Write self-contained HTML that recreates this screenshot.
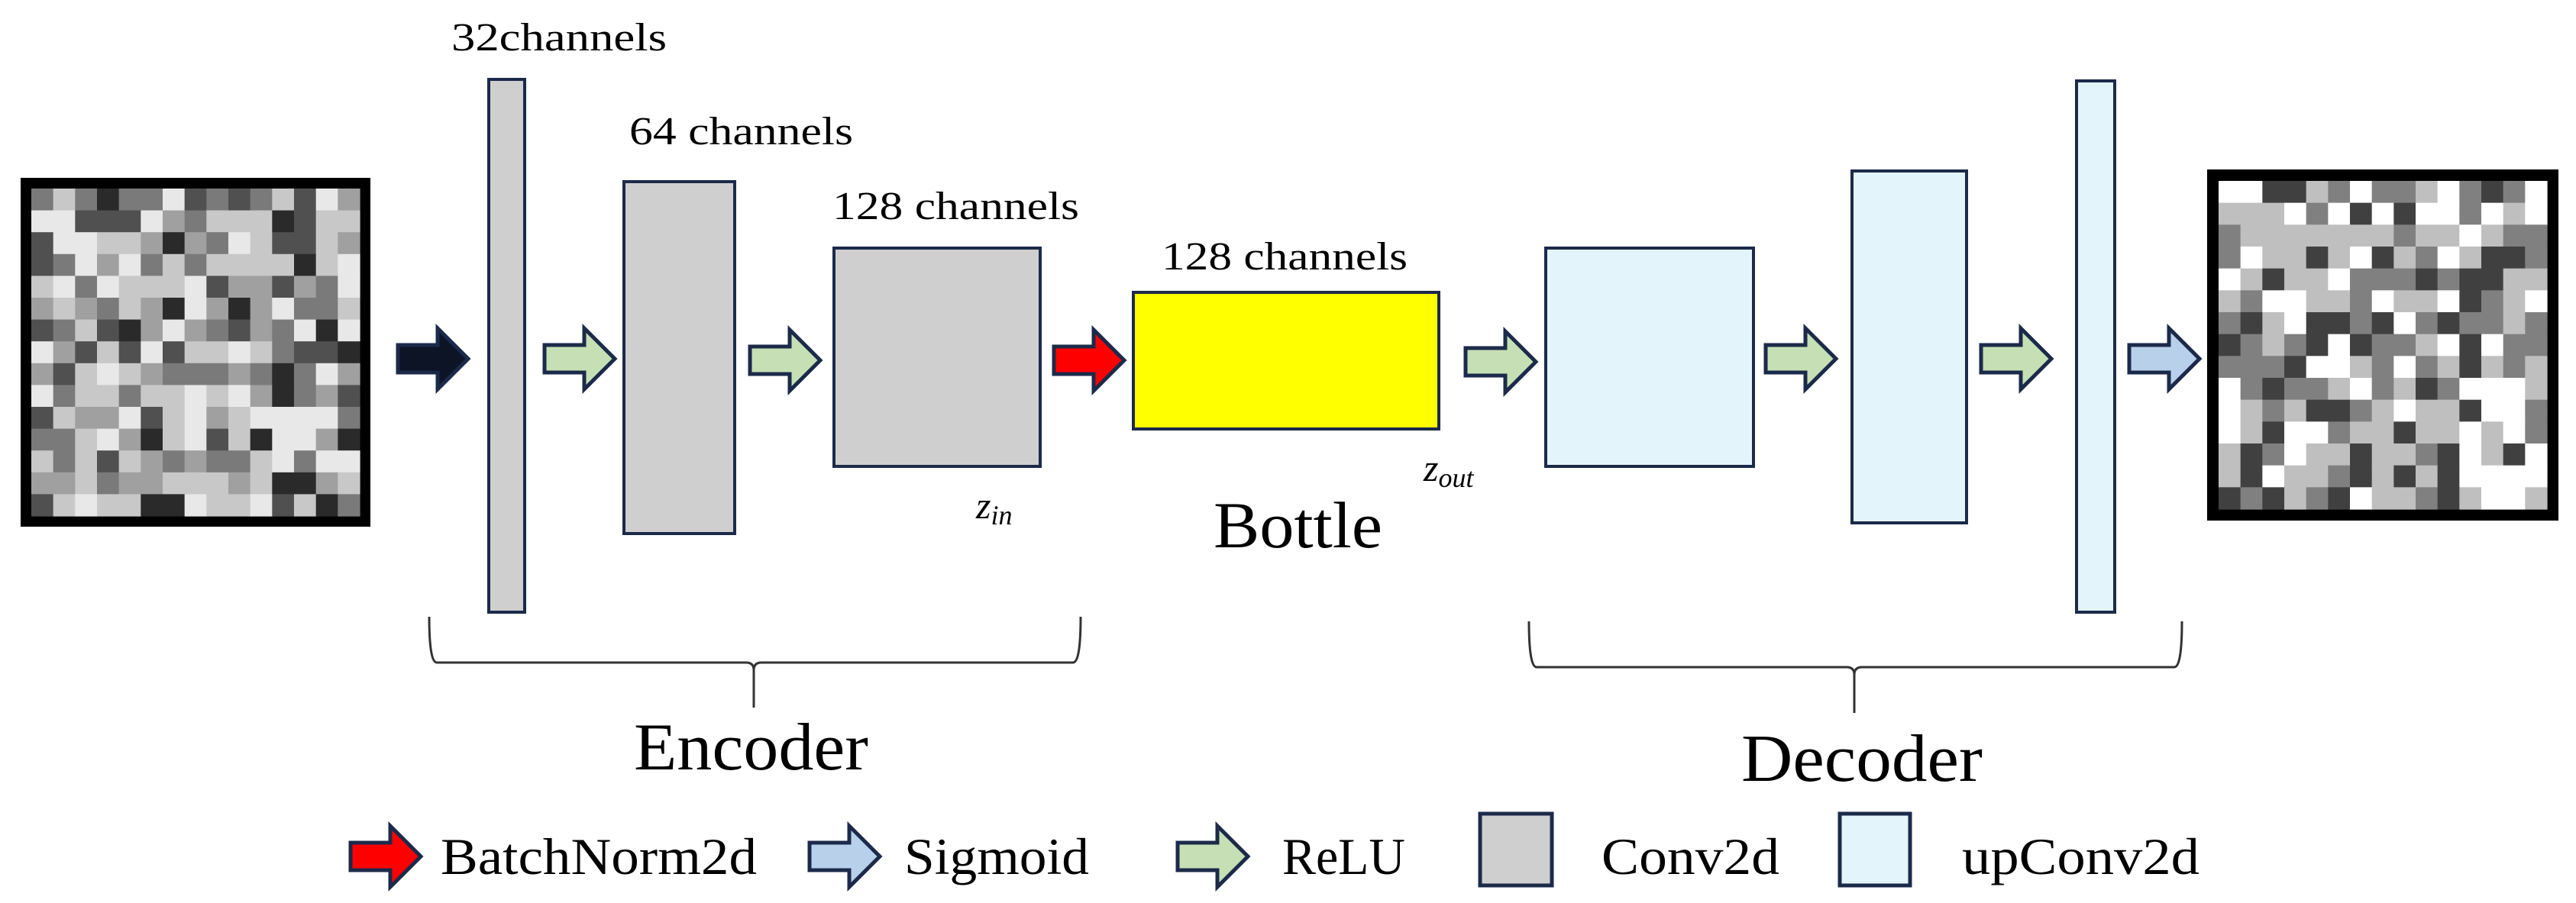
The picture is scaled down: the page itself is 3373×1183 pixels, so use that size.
<!DOCTYPE html>
<html><head><meta charset="utf-8"><style>
html,body{margin:0;padding:0;background:#fff;width:3373px;height:1183px;overflow:hidden}
svg{display:block}
svg text{font-family:"Liberation Serif","Times New Roman","DejaVu Serif",serif !important;fill:#000}
</style></head><body>
<svg id="s" width="3373" height="1183" viewBox="0 0 3373 1183" xmlns="http://www.w3.org/2000/svg" font-family="'Liberation Serif', 'DejaVu Serif', serif">
<defs>
<g id="arr"><polygon points="0,22 52,22 52,0 92,40 52,80 52,58 0,58" stroke="#1c2a4a" stroke-width="5" stroke-linejoin="miter"/></g>
</defs>
<rect width="3373" height="1183" fill="#fff"/>
<rect x="27" y="233" width="458" height="457" fill="#000"/>
<g id="leftgrid"></g>
<rect x="2890" y="222" width="460" height="460" fill="#000"/>
<g id="rightgrid"></g>

<rect x="640" y="104" width="47" height="698" fill="#d0cfd0" stroke="#1c2a4a" stroke-width="4"/>
<rect x="817" y="238" width="145" height="461" fill="#d0cfd0" stroke="#1c2a4a" stroke-width="4"/>
<rect x="1092" y="325" width="270" height="286" fill="#d0cfd0" stroke="#1c2a4a" stroke-width="4"/>
<rect x="1484" y="383" width="400" height="179" fill="#ffff00" stroke="#1c2a4a" stroke-width="4"/>
<rect x="2024" y="325" width="272" height="286" fill="#e4f4fb" stroke="#1c2a4a" stroke-width="4"/>
<rect x="2425" y="224" width="150" height="461" fill="#e4f4fb" stroke="#1c2a4a" stroke-width="4"/>
<rect x="2719" y="106" width="50" height="696" fill="#e4f4fb" stroke="#1c2a4a" stroke-width="4"/>

<use href="#arr" x="521" y="430" fill="#0d1426"/>
<use href="#arr" x="713" y="430" fill="#c6dfb4"/>
<use href="#arr" x="982" y="432" fill="#c6dfb4"/>
<use href="#arr" x="1380" y="432" fill="#ff0000"/>
<use href="#arr" x="1919" y="434" fill="#c6dfb4"/>
<use href="#arr" x="2312" y="430" fill="#c6dfb4"/>
<use href="#arr" x="2594" y="430" fill="#c6dfb4"/>
<use href="#arr" x="2788" y="430" fill="#b8d0ea"/>

<text x="591" y="66" font-size="52" textLength="282" lengthAdjust="spacingAndGlyphs">32channels</text>
<text x="824" y="189" font-size="52" textLength="293" lengthAdjust="spacingAndGlyphs">64 channels</text>
<text x="1090" y="287" font-size="52" textLength="323" lengthAdjust="spacingAndGlyphs">128 channels</text>
<text x="1521" y="353" font-size="52" textLength="322" lengthAdjust="spacingAndGlyphs">128 channels</text>
<text x="1278" y="679" font-size="50" font-style="italic">z<tspan font-size="36" dy="8">in</tspan></text>
<text x="1864" y="630" font-size="50" font-style="italic">z<tspan font-size="36" dy="8">out</tspan></text>
<text x="1589" y="717" font-size="86" textLength="221" lengthAdjust="spacingAndGlyphs">Bottle</text>
<text x="830" y="1008" font-size="88" textLength="307" lengthAdjust="spacingAndGlyphs">Encoder</text>
<text x="2280" y="1023" font-size="88" textLength="316" lengthAdjust="spacingAndGlyphs">Decoder</text>

<path d="M562 808 Q562 868 572 868 L977 868 Q987 868 987 878 L987 927 M987 878 Q987 868 997 868 L1405 868 Q1415 868 1415 808" fill="none" stroke="#333" stroke-width="3"/>
<path d="M2002 814 Q2002 874 2012 874 L2418 874 Q2428 874 2428 884 L2428 934 M2428 884 Q2428 874 2438 874 L2847 874 Q2857 874 2857 814" fill="none" stroke="#333" stroke-width="3"/>

<use href="#arr" x="459" y="1082" fill="#ff0000"/>
<text x="577" y="1145" font-size="68" textLength="414" lengthAdjust="spacingAndGlyphs">BatchNorm2d</text>
<use href="#arr" x="1060" y="1082" fill="#b8d0ea"/>
<text x="1184" y="1145" font-size="68" textLength="242" lengthAdjust="spacingAndGlyphs">Sigmoid</text>
<use href="#arr" x="1542" y="1082" fill="#c6dfb4"/>
<text x="1679" y="1145" font-size="68" textLength="161" lengthAdjust="spacingAndGlyphs">ReLU</text>
<rect x="1938" y="1066" width="94" height="94" fill="#d0cfd0" stroke="#1c2a4a" stroke-width="5"/>
<text x="2097" y="1145" font-size="68" textLength="233" lengthAdjust="spacingAndGlyphs">Conv2d</text>
<rect x="2409" y="1066" width="92" height="94" fill="#e4f4fb" stroke="#1c2a4a" stroke-width="5"/>
<text x="2569" y="1145" font-size="68" textLength="311" lengthAdjust="spacingAndGlyphs">upConv2d</text>
</svg>
<script>
(function(){
var NS="http://www.w3.org/2000/svg";
var C={W:"#ffffff",L:"#bfbfbf",M:"#808080",D:"#404040"};
var R=["WWDDLMWMMLWMDMW","LLLWMWDWDWWMWLW","MLLLLLLLMLLWLMM","MWLLDLWDLMWLDDM","WLDLLWMMMDMDDLL","LMWWLLMWLLWDMLW","MDLWDDMDWMDMMLM","DMLMDWDMMLWDWMM","MMMDWWLMWMLDLML","WMDMMLWMLDMWWWL","WLMLDDMLWLLDWWM","WLDWWMLLDLLWLWM","LDMWLLDLLMDWLDW","LDWLLMDLDLDWWWW","DMDLMDWLLMDLWWL"];
var g=document.getElementById("rightgrid");
var x0=2905,y0=237,cw=430/15,ch=430/15;
for(var r=0;r<15;r++)for(var c=0;c<15;c++){var e=document.createElementNS(NS,"rect");e.setAttribute("x",x0+c*cw);e.setAttribute("y",y0+r*ch);e.setAttribute("width",cw+0.6);e.setAttribute("height",ch+0.6);e.setAttribute("fill",C[R[r][c]]);g.appendChild(e);}
var s=12345;function rnd(){s=(s*1103515245+12345)%2147483648;return s/2147483648;}
var g2=document.getElementById("leftgrid");
var lv=["#e8e8e8","#c8c8c8","#a0a0a0","#7a7a7a","#505050","#2a2a2a"];
var lx=41,ly=247,lw=430/15,lh=429/15;
for(var r=0;r<15;r++)for(var c=0;c<15;c++){var v=rnd();var i=v<0.25?0:v<0.45?1:v<0.63?2:v<0.78?3:v<0.9?4:5;var e=document.createElementNS(NS,"rect");e.setAttribute("x",lx+c*lw);e.setAttribute("y",ly+r*lh);e.setAttribute("width",lw+0.6);e.setAttribute("height",lh+0.6);e.setAttribute("fill",lv[i]);g2.appendChild(e);}
})();
</script>
</body></html>
